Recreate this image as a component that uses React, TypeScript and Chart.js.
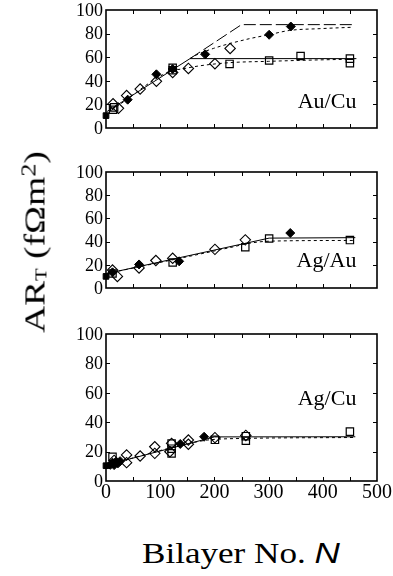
import React, { useEffect, useRef } from 'react';
import { Chart, registerables } from 'chart.js';

Chart.register(...registerables);

// ---------- shared ----------
const zeroN = [0];
const xTickLabels = [0, 100, 200, 300, 400, 500];
const yTickLabels = [0, 20, 40, 60, 80, 100];
const xMinorTicks = [50, 100, 150, 200, 250, 300, 350, 400, 450];
const yMinorTicks = [20, 40, 60, 80];

// ---------- Au/Cu ----------
const auCuZero = [10.5];
const auCuFilledN = [40, 93, 123, 183, 301, 341];
const auCuFilledV = [24, 45.5, 50, 62.4, 79, 86];
const auCuDiamondN = [13, 23, 38, 63, 93, 123, 152, 201, 229];
const auCuDiamondV = [20.5, 16.7, 27.5, 33, 39.6, 47, 50.5, 54.5, 67.4];
const auCuSquareN = [13, 15, 123, 123, 228, 301, 359, 450, 450];
const auCuSquareV = [15.5, 17.5, 49, 51, 54.3, 57.2, 61, 58.8, 55];
const auCuSolidN = [2, 155, 462];
const auCuSolidV = [14, 58.8, 58.8];
const auCuLongN = [155, 250, 460];
const auCuLongV = [58.8, 87.6, 87.6];
const auCuUpperN = [155, 161, 198, 260, 300, 339, 395, 456];
const auCuUpperV = [58.8, 60.6, 67.4, 75.2, 79, 82.7, 84.2, 85.4];
const auCuLowerN = [10, 120, 137, 173, 229, 300, 382, 456];
const auCuLowerV = [15, 48.5, 49.8, 52.7, 55.4, 56.5, 57.6, 58.3];

// ---------- Ag/Au ----------
const agAuZero = [10];
const agAuFilledN = [12, 61, 135, 340];
const agAuFilledV = [13.5, 20.3, 23, 47.4];
const agAuDiamondN = [12, 21, 61, 92, 123, 201, 257];
const agAuDiamondV = [15.5, 10, 17.3, 23.7, 25.6, 33.3, 41.5];
const agAuSquareN = [12, 123, 257, 301, 450];
const agAuSquareV = [12.5, 22, 35.2, 42.7, 41.3];
const agAuSolidN = [2, 301, 460];
const agAuSolidV = [12.5, 43, 43.4];
const agAuDashN = [2, 235, 260, 303, 460];
const agAuDashV = [12.5, 35.5, 38.2, 40.4, 41];

// ---------- Ag/Cu ----------
const agCuZero = [10.4];
const agCuFilledN = [8, 12, 15, 18, 22, 26, 137, 181];
const agCuFilledV = [11, 12.5, 10.8, 13, 12, 13.5, 25.2, 30.1];
const agCuDiamondN = [15, 38, 38, 63, 90, 90, 118, 121, 152, 152, 201, 258];
const agCuDiamondV = [14, 17.7, 12.5, 17, 23.3, 18.8, 19.9, 25.6, 27.9, 25, 29.5, 31];
const agCuSquareN = [12, 121, 121, 121, 201, 258, 258, 450];
const agCuSquareV = [16.5, 18.8, 22, 25.5, 28, 27.4, 30.5, 33.6];
const agCuSolidN = [2, 200, 460];
const agCuSolidV = [11, 30, 30.1];
const agCuDashN = [2, 180, 200, 260, 460];
const agCuDashV = [11, 27.5, 28.3, 29, 29.6];

const panelNames = ['Au/Cu', 'Ag/Au', 'Ag/Cu'];

const pts = (xs: number[], ys: number[]) => xs.map((x, i) => ({ x, y: ys[i] }));

const SERIF = '"Liberation Serif"';
const SANS = '"Liberation Sans"';

function markers(zero: number[], fN: number[], fV: number[], dN: number[], dV: number[], sN: number[], sV: number[]) {
  return [
    {
      data: pts(zeroN, zero), pointStyle: 'rect', pointRadius: 4, backgroundColor: '#000',
      borderColor: '#000', borderWidth: 1, showLine: false, clip: false,
    },
    {
      data: pts(fN, fV), pointStyle: 'rectRot', pointRadius: 4.5, backgroundColor: '#000',
      borderColor: '#000', borderWidth: 1, showLine: false,
    },
    {
      data: pts(dN, dV), pointStyle: 'rectRot', pointRadius: 5.2, backgroundColor: 'rgba(255,255,255,0)',
      borderColor: '#000', borderWidth: 1.1, showLine: false,
    },
    {
      data: pts(sN, sV), pointStyle: 'rect', pointRadius: 5.2, backgroundColor: 'rgba(255,255,255,0)',
      borderColor: '#000', borderWidth: 1.2, showLine: false,
    },
  ];
}

function line(xs: number[], ys: number[], dash: number[], curved: boolean) {
  return {
    data: pts(xs, ys), showLine: true, pointRadius: 0, borderColor: '#000', borderWidth: 1,
    borderDash: dash, fill: false, tension: curved ? 0.4 : 0,
    cubicInterpolationMode: curved ? 'monotone' : 'default',
  };
}

const panelDatasets = [
  [
    ...markers(auCuZero, auCuFilledN, auCuFilledV, auCuDiamondN, auCuDiamondV, auCuSquareN, auCuSquareV),
    line(auCuSolidN, auCuSolidV, [], false),
    line(auCuLongN, auCuLongV, [12, 4], false),
    line(auCuUpperN, auCuUpperV, [3, 3], true),
    line(auCuLowerN, auCuLowerV, [3, 3], true),
  ],
  [
    ...markers(agAuZero, agAuFilledN, agAuFilledV, agAuDiamondN, agAuDiamondV, agAuSquareN, agAuSquareV),
    line(agAuSolidN, agAuSolidV, [], false),
    line(agAuDashN, agAuDashV, [3, 3], true),
  ],
  [
    ...markers(agCuZero, agCuFilledN, agCuFilledV, agCuDiamondN, agCuDiamondV, agCuSquareN, agCuSquareV),
    line(agCuSolidN, agCuSolidV, [], false),
    line(agCuDashN, agCuDashV, [3, 3], true),
  ],
];

// label anchor (data coords: right edge N, baseline value)
const labelAnchors = [
  { x: 462, y: 17 },
  { x: 462, y: 18 },
  { x: 462, y: 52 },
];

const framePlugin = {
  id: 'frameTicks',
  afterDraw(chart: any, _args: any, opts: any) {
    const { ctx, chartArea: a, scales } = chart;
    const xs = scales.x;
    const ys = scales.y;
    ctx.save();
    ctx.strokeStyle = '#000';
    ctx.lineWidth = 1;
    ctx.beginPath();
    xMinorTicks.forEach((v) => {
      const px = Math.round(xs.getPixelForValue(v)) + 0.5;
      ctx.moveTo(px, a.bottom);
      ctx.lineTo(px, a.bottom - 4);
      ctx.moveTo(px, a.top);
      ctx.lineTo(px, a.top + 4);
    });
    yMinorTicks.forEach((v) => {
      const py = Math.round(ys.getPixelForValue(v)) + 0.5;
      ctx.moveTo(a.left, py);
      ctx.lineTo(a.left + 4, py);
      ctx.moveTo(a.right, py);
      ctx.lineTo(a.right - 4, py);
    });
    ctx.stroke();
    ctx.lineWidth = 1.6;
    ctx.strokeRect(a.left, a.top, a.right - a.left, a.bottom - a.top);
    ctx.fillStyle = '#000';

    // y tick labels
    ctx.font = `18px ${SERIF}`;
    ctx.textAlign = 'right';
    ctx.textBaseline = 'middle';
    yTickLabels.forEach((v) => {
      ctx.fillText(String(v), a.left - 3, ys.getPixelForValue(v) + 1);
    });

    // x tick labels
    if (opts.showX) {
      ctx.font = `20px ${SERIF}`;
      ctx.textAlign = 'center';
      ctx.textBaseline = 'middle';
      xTickLabels.forEach((v) => {
        ctx.fillText(String(v), xs.getPixelForValue(v), a.bottom + 12);
      });
    }

    // panel name
    ctx.font = `22px ${SERIF}`;
    ctx.textAlign = 'right';
    ctx.textBaseline = 'alphabetic';
    ctx.fillText(opts.text, xs.getPixelForValue(opts.x), ys.getPixelForValue(opts.y));
    ctx.restore();
  },
};

const AREA_LEFT = 106;
const AREA_RIGHT = 377;
const PAD = 14;
const X_AXIS_H = 30;
const panelAreas = [
  { top: 10, bottom: 158 },
  { top: 172, bottom: 318 },
  { top: 334, bottom: 481 },
];

export default function App() {
  const refs = [useRef<HTMLCanvasElement>(null), useRef<HTMLCanvasElement>(null), useRef<HTMLCanvasElement>(null)];

  useEffect(() => {
    const charts: Chart[] = [];
    let alive = true;
    panelAreas.forEach((area, i) => {
      const canvas = refs[i].current;
      if (!canvas) return;
      const showX = i === 2;
      const chart = new Chart(canvas, {
        type: 'scatter',
        data: { datasets: panelDatasets[i] as any },
        options: {
          animation: false,
          responsive: false,
          maintainAspectRatio: false,
          layout: { padding: { top: PAD, bottom: PAD, left: 0, right: 393 - AREA_RIGHT } },
          plugins: {
            legend: { display: false },
            tooltip: { enabled: false },
            frameTicks: { text: panelNames[i], x: labelAnchors[i].x, y: labelAnchors[i].y, showX },
          } as any,
          scales: {
            x: {
              type: 'linear',
              min: 0,
              max: 500,
              display: showX,
              grid: { display: false },
              border: { display: false },
              ticks: { display: false },
              afterFit: (s: any) => {
                s.height = X_AXIS_H;
              },
            },
            y: {
              type: 'linear',
              min: 0,
              max: 100,
              grid: { display: false },
              border: { display: false },
              ticks: { display: false },
              afterFit: (s: any) => {
                s.width = AREA_LEFT;
              },
            },
          },
        },
        plugins: [framePlugin as any],
      });
      charts.push(chart);
    });
    const fonts = (document as any).fonts;
    if (fonts && fonts.load) {
      Promise.all([
        fonts.load(`18px ${SERIF}`),
        fonts.load(`20px ${SERIF}`),
        fonts.load(`22px ${SERIF}`),
      ]).then(() => {
        if (alive) charts.forEach((c) => c.update('none'));
      }).catch(() => {});
    }
    return () => {
      alive = false;
      charts.forEach((c) => c.destroy());
    };
  }, []);

  return (
    <div style={{ position: 'absolute', left: 0, top: 0, width: 393, height: 576, background: '#fff', overflow: 'hidden' }}>
      {panelAreas.map((area, i) => {
        const h = area.bottom - area.top + 2 * PAD + (i === 2 ? X_AXIS_H : 0);
        return (
          <canvas
            key={i}
            ref={refs[i]}
            width={393}
            height={h}
            style={{ position: 'absolute', left: 0, top: area.top - PAD, width: 393, height: h }}
          />
        );
      })}
      <div
        style={{
          position: 'absolute',
          left: 35,
          top: 242,
          transform: 'translate(-50%, -50%) rotate(-90deg) scaleX(1.25)',
          fontFamily: SERIF,
          fontSize: 30,
          lineHeight: '30px',
          whiteSpace: 'nowrap',
          color: '#000',
        }}
      >
        AR<span style={{ fontSize: '0.55em', verticalAlign: '-0.1em' }}>T</span> (fΩm<span style={{ fontSize: '0.7em', verticalAlign: '0.45em' }}>2</span>)
      </div>
      <div
        style={{
          position: 'absolute',
          left: 142,
          top: 538,
          transform: 'scaleX(1.17)',
          transformOrigin: 'left center',
          fontFamily: SERIF,
          fontSize: 30,
          lineHeight: '30px',
          whiteSpace: 'nowrap',
          color: '#000',
        }}
      >
        Bilayer No. <span style={{ fontFamily: SANS, fontStyle: 'italic' }}>N</span>
      </div>
    </div>
  );
}
